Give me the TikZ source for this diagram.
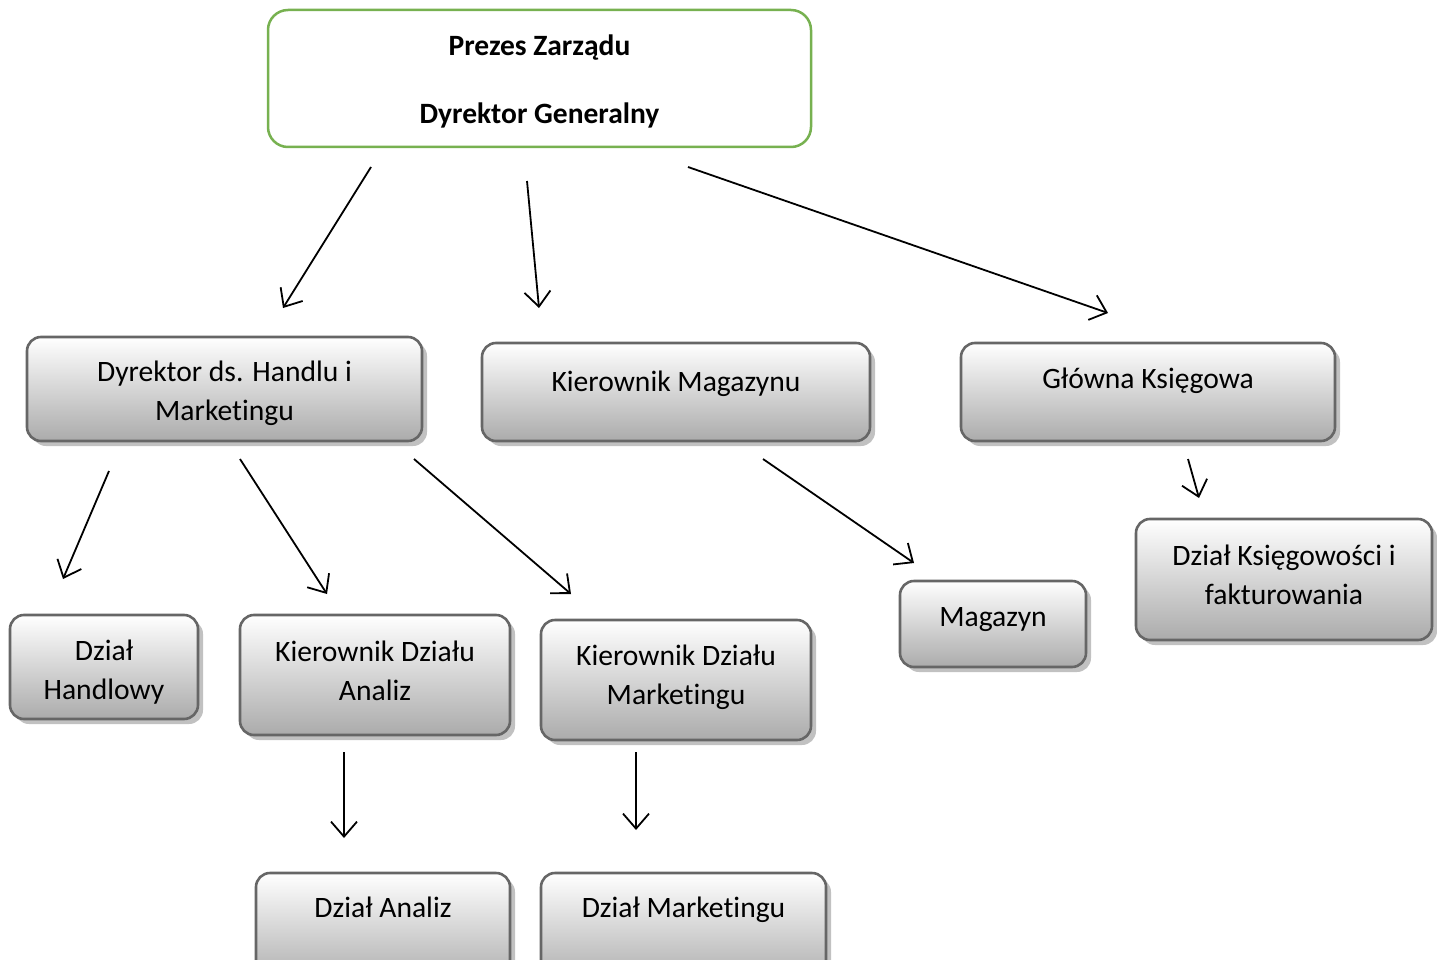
\documentclass[tikz,border=0pt]{standalone}
\usepackage{fontspec}
\setmainfont{Carlito}[Ligatures=NoCommon]
\usetikzlibrary{arrows.meta,shadows}
\definecolor{boxline}{HTML}{666666}
\definecolor{boxbot}{HTML}{ABABAB}
\definecolor{topgreen}{HTML}{77B150}
\tikzset{
  gbox/.style={rounded corners=14pt, draw=boxline, line width=2.6pt,
    top color=white, bottom color=boxbot,
    drop shadow={shadow xshift=5pt, shadow yshift=-5pt, fill=black!35, opacity=0.7},
    inner sep=0pt},
  topbox/.style={rounded corners=20pt, draw=topgreen, line width=2.5pt, fill=white, inner sep=0pt},
  txt/.style={font=\fontsize{29.6}{38.5}\selectfont, align=center, inner sep=0pt, anchor=base},
  btxt/.style={font=\fontsize{29.5}{34}\selectfont\bfseries, align=center, inner sep=0pt, anchor=base},
  arr/.style={line width=1.8pt, -{Straight Barb[length=15pt,width=26pt,line width=1.8pt]}},
}
\begin{document}
\begin{tikzpicture}[x=1pt,y=-1pt]
\useasboundingbox (0,0) rectangle (1437,960);
\clip (0,0) rectangle (1437,960);
% top box
\node[topbox, minimum width=543pt, minimum height=137pt] (top) at (539.5,78.5) {};
\node[btxt] (topa) at (539.5,56) {Prezes Zarządu};
\node[btxt] (topb) at (539.5,124) {Dyrektor Generalny};
% level 2
\node[gbox, minimum width=395pt, minimum height=104pt] (dh) at (224.5,389) {};
\node[txt] (dht) at (224.5,420) {Dyrektor ds. Handlu i\\Marketingu};
\node[gbox, minimum width=388pt, minimum height=98pt] (km) at (676,392) {};
\node[txt] (kmt) at (676,391) {Kierownik Magazynu};
\node[gbox, minimum width=374pt, minimum height=98pt] (gk) at (1148,392) {};
\node[txt] (gkt) at (1148,388) {Główna Księgowa};
% level 3
\node[gbox, minimum width=188pt, minimum height=104pt] (dhl) at (104,667) {};
\node[txt] (dhlt) at (104,699) {Dział\\Handlowy};
\node[gbox, minimum width=270pt, minimum height=120pt] (kda) at (375,675) {};
\node[txt] (kdat) at (375,700) {Kierownik Działu\\Analiz};
\node[gbox, minimum width=270pt, minimum height=120pt] (kdm) at (676,680) {};
\node[txt] (kdmt) at (676,704) {Kierownik Działu\\Marketingu};
\node[gbox, minimum width=186pt, minimum height=86pt] (mag) at (993,624) {};
\node[txt] (magt) at (993,626) {Magazyn};
\node[gbox, minimum width=296pt, minimum height=121pt] (dk) at (1284,579.5) {};
\node[txt] (dkt) at (1284,604) {Dział Księgowości i\\fakturowania};
% level 4
\node[gbox, minimum width=254pt, minimum height=112pt] (da) at (383,929) {};
\node[txt] (dat) at (383,917) {Dział Analiz};
\node[gbox, minimum width=285pt, minimum height=112pt] (dm) at (683.5,929) {};
\node[txt] (dmt) at (683.5,917) {Dział Marketingu};
% arrow end points
\coordinate (a1s) at (371,167); \coordinate (a1e) at (283,308);
\coordinate (a2s) at (527,181); \coordinate (a2e) at (539,308);
\coordinate (a3s) at (688,167); \coordinate (a3e) at (1108,313);
\coordinate (a4s) at (109,471); \coordinate (a4e) at (63,579);
\coordinate (a5s) at (240,459); \coordinate (a5e) at (327,594);
\coordinate (a6s) at (414,459); \coordinate (a6e) at (571,594);
\coordinate (a7s) at (763,459); \coordinate (a7e) at (914,563);
\coordinate (a8s) at (1188,459); \coordinate (a8e) at (1199,498);
\coordinate (a9s) at (344,752); \coordinate (a9e) at (344,838);
\coordinate (a10s) at (636,752); \coordinate (a10e) at (636,830);
\foreach \i in {1,...,10} \draw[arr] (a\i s) -- (a\i e);
\end{tikzpicture}
\end{document}
